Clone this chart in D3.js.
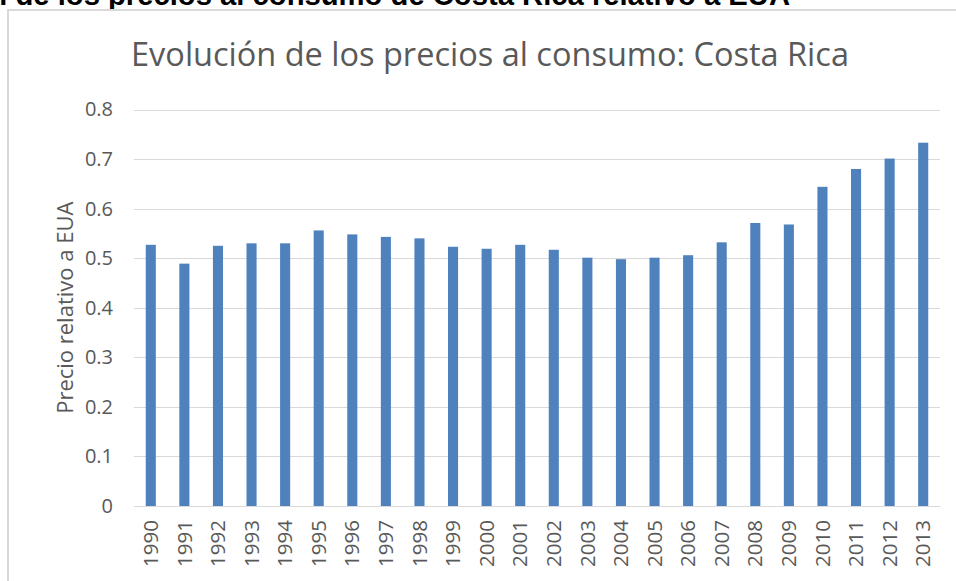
<!DOCTYPE html>
<html>
<head>
<meta charset="utf-8">
<script src="https://cdn.jsdelivr.net/npm/d3@7"></script>
<style>
  body { margin: 0; background: #fff; }
  svg { display: block; }
</style>
</head>
<body>
<div id="chart"></div>
<script>
let w = 956;
let h = 581;

// data
let years = ["1990","1991","1992","1993","1994","1995","1996","1997","1998","1999","2000","2001",
             "2002","2003","2004","2005","2006","2007","2008","2009","2010","2011","2012","2013"];
let precio = [0.527, 0.489, 0.525, 0.530, 0.530, 0.556, 0.548, 0.543, 0.540, 0.523, 0.519, 0.527,
              0.517, 0.501, 0.498, 0.501, 0.506, 0.532, 0.571, 0.568, 0.644, 0.680, 0.701, 0.733];
let yTicks = [0, 0.1, 0.2, 0.3, 0.4, 0.5, 0.6, 0.7, 0.8];

let plotLeft = 134, plotRight = 940, plotTop = 109.5, plotBottom = 506;

let svg = d3.select("#chart").append("svg")
    .attr("width", w)
    .attr("height", h);

// heading of the document, cut at the top of the picture
let headPrefix = "Evolución temporal ";
let headMain = "de los precios al consumo de Costa Rica relativo a EUA";
let head = svg.append("text")
   .attr("x", 790)
   .attr("y", 5)
   .attr("text-anchor", "end")
   .style("font-family", "Liberation Sans, Arial, sans-serif")
   .style("font-weight", "bold")
   .style("font-size", "22px")
   .style("fill", "#000")
   .text(headMain);
// size it so the visible part spans like the original
let headLen = head.node().getComputedTextLength();
head.style("font-size", (22 * 775 / headLen) + "px")
    .text(headPrefix + headMain);

// chart frame
svg.append("rect")
   .attr("x", 8)
   .attr("y", 10)
   .attr("width", 1000)
   .attr("height", 700)
   .attr("fill", "#fff")
   .attr("stroke", "#d9d9d9")
   .attr("stroke-width", 2);

let xScale = d3.scaleBand()
    .domain(years)
    .range([plotLeft, plotRight])
    .paddingInner(0.7)
    .paddingOuter(0.35);

let yScale = d3.scaleLinear()
    .domain([0, 0.8])
    .range([plotBottom, plotTop]);

// gridlines
svg.append("g")
   .attr("class", "grid")
   .selectAll("line")
   .data(yTicks)
   .enter()
   .append("line")
   .attr("x1", plotLeft)
   .attr("x2", plotRight)
   .attr("y1", d => Math.round(yScale(d)) + 0.5)
   .attr("y2", d => Math.round(yScale(d)) + 0.5)
   .attr("stroke", "#d9d9d9")
   .attr("stroke-width", 1);

// bars
svg.selectAll("rect.bar")
   .data(precio)
   .enter()
   .append("rect")
   .attr("class", "bar")
   .attr("x", (d, i) => xScale(years[i]))
   .attr("y", d => yScale(d))
   .attr("width", xScale.bandwidth())
   .attr("height", d => plotBottom - yScale(d))
   .attr("fill", "#4f81bd");

// y axis labels
let yAxis = d3.axisLeft(yScale)
    .tickValues(yTicks)
    .tickFormat(d => d === 0 ? "0" : d3.format(".1f")(d))
    .tickSize(0)
    .tickPadding(21);
let gy = svg.append("g")
   .attr("transform", `translate(${plotLeft}, 0)`)
   .call(yAxis);
gy.select(".domain").remove();
gy.selectAll("text")
  .style("font-family", "Open Sans, sans-serif")
  .style("font-size", "20px")
  .style("fill", "#595959");

// x axis labels, rotated
let xAxis = d3.axisBottom(xScale).tickSize(0).tickPadding(0);
let gx = svg.append("g")
   .attr("transform", `translate(0, ${plotBottom})`)
   .call(xAxis);
gx.select(".domain")
  .attr("stroke", "#d9d9d9");
gx.selectAll("text")
  .attr("transform", "rotate(-90)")
  .attr("x", -14)
  .attr("y", 0)
  .attr("dy", "0.35em")
  .attr("text-anchor", "end")
  .style("font-family", "Open Sans, sans-serif")
  .style("font-size", "20.5px")
  .style("fill", "#595959");

// chart title
svg.append("text")
   .attr("x", 490)
   .attr("y", 66)
   .attr("text-anchor", "middle")
   .style("font-family", "Open Sans, sans-serif")
   .style("font-size", "32.5px")
   .style("fill", "#595959")
   .text("Evolución de los precios al consumo: Costa Rica");

// y axis title
svg.append("text")
   .attr("transform", `translate(73, ${(plotTop + plotBottom) / 2}) rotate(-90)`)
   .attr("text-anchor", "middle")
   .style("font-family", "Open Sans, sans-serif")
   .style("font-size", "22px")
   .style("fill", "#595959")
   .text("Precio relativo a EUA");
</script>
</body>
</html>
